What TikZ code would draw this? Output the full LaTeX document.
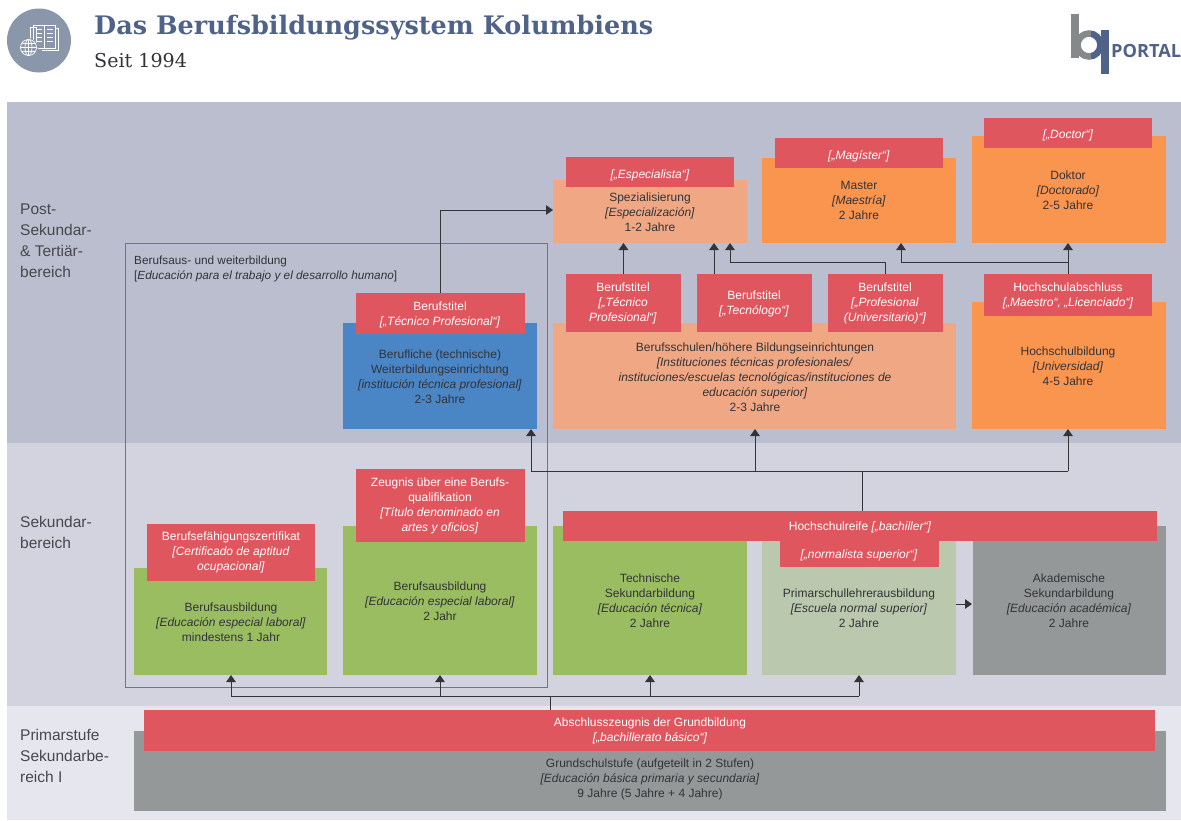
\documentclass[tikz,border=0pt]{standalone}
\usepackage{fontspec}
\setmainfont{Liberation Sans}
\newfontfamily\slabfont{DejaVu Serif}
\newfontfamily\logofont{Open Sans}
\usetikzlibrary{arrows.meta,calc}
\definecolor{bandA}{HTML}{BBBECE}
\definecolor{bandB}{HTML}{D2D3DE}
\definecolor{bandC}{HTML}{E6E7EE}
\definecolor{redbox}{HTML}{DF565E}
\definecolor{salmon}{HTML}{F0A884}
\definecolor{orangebox}{HTML}{F9954F}
\definecolor{bluebox}{HTML}{4A86C5}
\definecolor{greenbox}{HTML}{9ABD62}
\definecolor{lightbox}{HTML}{BAC8AD}
\definecolor{graybox}{HTML}{959898}
\definecolor{titleblue}{HTML}{4F6287}
\definecolor{frameblue}{HTML}{5A78AE}
\definecolor{icongray}{HTML}{8A97AB}
\definecolor{inkc}{HTML}{333338}
\newcommand{\bx}[6]{%
  \pgfmathsetmacro{\bxw}{#4-#2}\pgfmathsetmacro{\bxh}{#5-#3}%
  \node[anchor=north west,inner sep=0pt,outer sep=0pt,minimum width=\bxw pt,minimum height=\bxh pt,fill=#6] (#1) at (#2,#3) {};}
\newcommand{\lb}[4]{\node[body] (#1) at (#2,#3) {#4};}
\newcommand{\lr}[4]{\node[redt] (#1) at (#2,#3) {#4};}
\tikzset{
  body/.style={align=center,inner sep=0pt,text=inkc,font=\fontsize{12}{15}\selectfont},
  redt/.style={body,text=white},
  side/.style={align=left,anchor=west,inner sep=0pt,text=inkc!90,font=\fontsize{15.5}{21}\selectfont},
  conn/.style={draw=inkc,line width=1pt},
  arr/.style={conn,-{Triangle[length=7pt,width=9.5pt]}},
}
\begin{document}
\begin{tikzpicture}[x=1pt,y=-1pt]
\useasboundingbox (0,0) rectangle (1181,820);
% bands
\bx{bandtop}{7}{102}{1181}{443}{bandA}
\bx{bandmid}{7}{443}{1181}{706}{bandB}
\bx{bandlow}{7}{706}{1181}{820}{bandC}
% header icon
\node[circle,fill=icongray,minimum size=64pt,inner sep=0pt] (icon) at (39,40.5) {};
\begin{scope}[draw=white,line width=.7pt]
\draw (30.5,27) rectangle (36,45);
\draw (33,25.5) -- (44,25.5) -- (44,48) -- (33,48) -- cycle;
\draw (44,25.5) -- (55,25.5) -- (55,48) -- (44,48);
\draw (55,28) -- (58,28) -- (58,50) -- (42,50);
\foreach \yy in {29,33,37,41}{\draw (36,\yy) -- (42,\yy); \draw (47,\yy) -- (53,\yy);}
\fill[icongray] (28.5,47.5) circle (9.5);
\draw (28.5,47.5) circle (8);
\draw (28.5,47.5) ellipse (3.5 and 8);
\draw (20.5,47.5) -- (36.5,47.5);
\draw (21.7,43.5) -- (35.3,43.5);
\draw (21.7,51.5) -- (35.3,51.5);
\draw (28.5,39.5) -- (28.5,55.5);
\end{scope}
\node[anchor=base west,inner sep=0pt,text=titleblue,font=\slabfont\bfseries\fontsize{25.5}{28}\selectfont] (title) at (94,34) {Das Berufsbildungssystem Kolumbiens};
\node[anchor=base west,inner sep=0pt,text=inkc,font=\slabfont\fontsize{19.1}{22}\selectfont] (subtitle) at (94,67) {Seit 1994};
% logo
\begin{scope}
\clip (1070,25) rectangle (1091,65);
\draw[graybox!90!black,line width=6.5pt] (1089,45) circle (11.5);
\end{scope}
\begin{scope}
\clip (1091,25) rectangle (1110,65);
\draw[titleblue,line width=6.5pt] (1089,45) circle (11.5);
\end{scope}
\fill[graybox!90!black] (1071,14) rectangle (1078.5,58);
\fill[titleblue] (1100.5,30) rectangle (1108.5,74);
\node[anchor=base west,inner sep=0pt,text=titleblue,font=\logofont\bfseries\fontsize{18.2}{20}\selectfont] (portal) at (1111,57) {PORTAL};
% side labels
\node[side] (lpost) at (20,241) {Post-\\Sekundar-\\\& Tertiär-\\bereich};
\node[side] (lsek) at (20,532.5) {Sekundar-\\bereich};
\node[side] (lprim) at (20,756) {Primarstufe\\Sekundarbe-\\reich I};
% frame
\node[draw=frameblue,line width=1pt,anchor=north west,inner sep=0pt,outer sep=0pt,minimum width=422pt,minimum height=444pt] (frame) at (125,243) {};
\node[body,anchor=north west,align=left,font=\fontsize{11.8}{15}\selectfont] (frametext) at (134,256) {Berufsaus- und weiterbildung\\{[}\textit{Educación para el trabajo y el desarrollo humano}{]}};
% coloured boxes
\bx{spez}{553}{180}{747}{243}{salmon}
\bx{mast}{762}{158}{956}{243}{orangebox}
\bx{dokt}{972}{136}{1166}{243}{orangebox}
\bx{schul}{553}{323}{956}{429}{salmon}
\bx{hoch}{972}{302}{1166}{429}{orangebox}
\bx{weit}{343}{323}{537}{429}{bluebox}
\bx{ausA}{134}{568}{327}{675}{greenbox}
\bx{ausB}{343}{526}{537}{675}{greenbox}
\bx{tech}{553}{526}{747}{675}{greenbox}
\bx{prim}{762}{526}{956}{675}{lightbox}
\bx{akad}{973}{526}{1166}{675}{graybox}
\bx{grund}{134}{731}{1166}{811}{graybox}
% red boxes
\bx{rSpez}{566}{157}{734}{187}{redbox}
\bx{rMast}{775}{138}{943}{168}{redbox}
\bx{rDokt}{984}{118}{1152}{148}{redbox}
\bx{rTa}{566}{274}{681}{332}{redbox}
\bx{rTb}{697}{274}{812}{332}{redbox}
\bx{rTc}{828}{274}{943}{332}{redbox}
\bx{rHoch}{984}{274}{1152}{316}{redbox}
\bx{rWeit}{356}{293}{525}{334}{redbox}
\bx{rAusA}{147}{524}{315}{581}{redbox}
\bx{rAusB}{356}{469}{525}{542}{redbox}
\bx{rBach}{563}{511}{1157}{541}{redbox}
\bx{rNorm}{780}{541}{939}{567}{redbox}
\bx{rGrund}{144}{710}{1155}{751}{redbox}
% red texts
\lr{tSpezR}{650}{175}{\textit{[„Especialista“]}}
\lr{tMastR}{859}{156}{\textit{[„Magíster“]}}
\lr{tDoktR}{1068}{135}{\textit{[„Doctor“]}}
\lr{tTa}{623}{303.5}{Berufstitel\\\textit{[„Técnico}\\\textit{Profesional“]}}
\lr{tTb}{754}{304}{Berufstitel\\\textit{[„Tecnólogo“]}}
\lr{tTc}{885}{303.5}{Berufstitel\\\textit{[„Profesional}\\\textit{(Universitario)“]}}
\lr{tHochR}{1068}{295.5}{Hochschulabschluss\\\textit{[„Maestro“, „Licenciado“]}}
\lr{tWeitR}{440}{314.5}{Berufstitel\\\textit{[„Técnico Profesional“]}}
\lr{tAusAR}{231}{552.5}{Berufsefähigungszertifikat\\\textit{[Certificado de aptitud}\\\textit{ocupacional]}}
\lr{tAusBR}{440}{505.5}{Zeugnis über eine Berufs-\\qualifikation\\\textit{[Título denominado en}\\\textit{artes y oficios]}}
\lr{tBach}{860}{527}{Hochschulreife \textit{[„bachiller“]}}
\lr{tNorm}{859}{555.5}{\textit{[„normalista superior“]}}
\lr{tGrundR}{650}{731}{Abschlusszeugnis der Grundbildung\\\textit{[„bachillerato básico“]}}
% body texts
\lb{tSpez}{650}{212}{Spezialisierung\\\textit{[Especialización]}\\1-2 Jahre}
\lb{tMast}{859}{200.5}{Master\\\textit{[Maestría]}\\2 Jahre}
\lb{tDokt}{1068}{190.5}{Doktor\\\textit{[Doctorado]}\\2-5 Jahre}
\lb{tSchul}{755}{377}{Berufsschulen/höhere Bildungseinrichtungen\\\textit{[Instituciones técnicas profesionales/}\\\textit{instituciones/escuelas tecnológicas/instituciones de}\\\textit{educación superior]}\\2-3 Jahre}
\lb{tHoch}{1068}{366.5}{Hochschulbildung\\\textit{[Universidad]}\\4-5 Jahre}
\lb{tWeit}{440}{377}{Berufliche (technische)\\Weiterbildungseinrichtung\\\textit{[institución técnica profesional]}\\2-3 Jahre}
\lb{tAusA}{231}{622.5}{Berufsausbildung\\\textit{[Educación especial laboral]}\\mindestens 1 Jahr}
\lb{tAusB}{440}{601.5}{Berufsausbildung\\\textit{[Educación especial laboral]}\\2 Jahr}
\lb{tTech}{650}{601}{Technische\\Sekundarbildung\\\textit{[Educación técnica]}\\2 Jahre}
\lb{tPrim}{859}{608.5}{Primarschullehrerausbildung\\\textit{[Escuela normal superior]}\\2 Jahre}
\lb{tAkad}{1069}{601}{Akademische\\Sekundarbildung\\\textit{[Educación académica]}\\2 Jahre}
\lb{tGrund}{650}{779.5}{Grundschulstufe (aufgeteilt in 2 Stufen)\\\textit{[Educación básica primaria y secundaria]}\\9 Jahre (5 Jahre + 4 Jahre)}
% connector coordinates
\coordinate (xA) at (231,696);
\coordinate (xB) at (440,696);
\coordinate (xC) at (650,696);
\coordinate (xD) at (859,696);
\coordinate (xG) at (550,696);
\coordinate (yA) at (862,471);
\coordinate (yW) at (531,471);
\coordinate (yS) at (755,471);
\coordinate (yH) at (1068,471);
\coordinate (zW) at (440,210);
\coordinate (zTb) at (714,243);
\coordinate (zTc) at (730,262);
\coordinate (zTcr) at (885,262);
\coordinate (zH) at (1068,262);
\coordinate (zM) at (901,262);
\coordinate (zP) at (956,604);
\coordinate (zQ) at (972,604);
% connectors
\draw[conn] (xG |- rGrund.north) -- (xG);
\draw[conn] (xA) -- (xD);
\draw[arr] (xA) -- (xA |- ausA.south);
\draw[arr] (xB) -- (xB |- ausB.south);
\draw[arr] (xC) -- (xC |- tech.south);
\draw[arr] (xD) -- (xD |- prim.south);
\draw[conn] (yA |- rBach.north) -- (yA);
\draw[conn] (yW) -- (yH);
\draw[arr] (yW) -- (yW |- weit.south);
\draw[arr] (yS) -- (yS |- schul.south);
\draw[arr] (yH) -- (yH |- hoch.south);
\draw[arr] (zW |- rWeit.north) -- (zW) -- (zW -| spez.west);
\draw[arr] (rTa.north) -- (rTa.north |- spez.south);
\draw[arr] (zTb |- rTb.north) -- (zTb);
\draw[arr] (zTcr |- rTc.north) -- (zTcr) -- (zTc) -- (zTc |- spez.south);
\draw[arr] (zH |- rHoch.north) -- (zH |- dokt.south);
\draw[arr] (zH) -- (zM) -- (zM |- mast.south);
\draw[arr] (zP) -- (zQ);
\end{tikzpicture}
\end{document}
